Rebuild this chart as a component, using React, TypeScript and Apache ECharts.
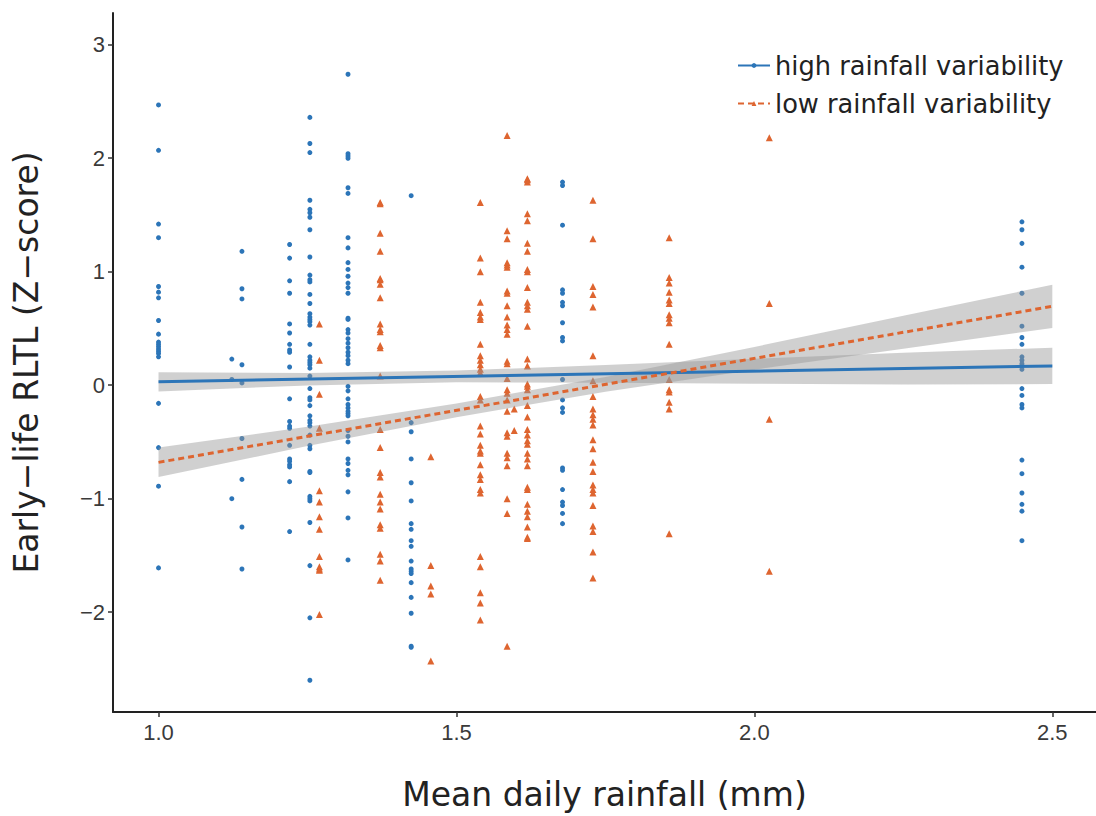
import React, { useEffect, useRef } from "react";
import * as echarts from "echarts";

// Column x-values (mean daily rainfall, mm) and Z-scores per column
const highX = [1.0, 1.123, 1.14, 1.22, 1.254, 1.318, 1.424, 1.678, 2.449];
const highY: number[][] = [
  [2.47, 2.07, 1.42, 1.30, 0.87, 0.82, 0.77, 0.57, 0.45, 0.38, 0.36, 0.34, 0.32, 0.30, 0.28, 0.25, -0.16, -0.55, -0.89, -1.61],
  [0.23, 0.05, -1.0],
  [1.18, 0.85, 0.76, 0.18, 0.02, -0.47, -0.83, -1.25, -1.62],
  [1.24, 1.12, 0.92, 0.81, 0.54, 0.46, 0.36, 0.31, 0.29, 0.16, -0.12, -0.32, -0.36, -0.38, -0.53, -0.65, -0.67, -0.70, -0.72, -0.85, -1.29],
  [2.36, 2.13, 2.05, 1.63, 1.55, 1.52, 1.48, 1.37, 1.13, 0.97, 0.93, 0.91, 0.80, 0.72, 0.63, 0.60, 0.58, 0.56, 0.53, 0.36, 0.25, 0.22, 0.20, 0.18, 0.15, 0.08, -0.03, -0.11, -0.13, -0.18, -0.27, -0.31, -0.33, -0.36, -0.44, -0.53, -0.56, -0.76, -0.77, -0.98, -1.00, -1.02, -1.21, -1.59, -2.05, -2.60],
  [2.74, 2.04, 2.02, 2.00, 1.74, 1.69, 1.30, 1.21, 1.08, 1.02, 0.96, 0.90, 0.86, 0.81, 0.59, 0.58, 0.49, 0.46, 0.41, 0.37, 0.33, 0.29, 0.26, 0.22, 0.19, -0.01, -0.05, -0.12, -0.17, -0.20, -0.23, -0.25, -0.27, -0.40, -0.45, -0.50, -0.65, -0.69, -0.75, -0.79, -0.94, -1.17, -1.54],
  [1.67, -0.33, -0.41, -0.65, -0.86, -1.02, -1.22, -1.27, -1.37, -1.42, -1.55, -1.62, -1.64, -1.66, -1.74, -1.87, -2.01, -2.30, -2.31],
  [1.79, 1.76, 1.41, 0.84, 0.81, 0.73, 0.70, 0.55, 0.42, 0.39, 0.05, -0.13, -0.20, -0.24, -0.73, -0.75, -0.92, -1.03, -1.06, -1.13, -1.22],
  [1.44, 1.37, 1.25, 1.04, 0.81, 0.52, 0.42, 0.36, 0.25, 0.22, 0.19, 0.17, 0.14, -0.03, -0.09, -0.17, -0.20, -0.66, -0.78, -0.95, -1.05, -1.11, -1.37],
];

const lowX = [1.27, 1.372, 1.457, 1.54, 1.585, 1.597, 1.619, 1.729, 1.857, 2.025];
const lowY: number[][] = [
  [0.54, 0.22, -0.08, -0.38, -0.93, -1.03, -1.16, -1.27, -1.51, -1.60, -1.62, -1.63, -2.02],
  [1.61, 1.60, 1.34, 1.18, 0.94, 0.93, 0.89, 0.77, 0.54, 0.49, 0.47, 0.35, 0.33, 0.08, -0.39, -0.55, -0.77, -0.81, -0.96, -1.03, -1.09, -1.23, -1.26, -1.49, -1.55, -1.72],
  [-0.63, -1.59, -1.77, -1.84, -2.43],
  [1.61, 1.12, 1.00, 0.73, 0.64, 0.60, 0.58, 0.36, 0.26, 0.22, 0.18, 0.14, 0.11, -0.10, -0.13, -0.36, -0.43, -0.53, -0.58, -0.60, -0.70, -0.79, -0.83, -0.92, -0.95, -1.51, -1.60, -1.83, -1.92, -2.07],
  [2.20, 1.36, 1.29, 1.08, 1.06, 1.04, 0.83, 0.81, 0.70, 0.60, 0.53, 0.49, 0.45, 0.21, 0.19, 0.06, -0.04, -0.07, -0.13, -0.23, -0.42, -0.45, -0.60, -0.64, -0.71, -1.00, -1.13, -2.30],
  [-0.21, -0.40],
  [1.82, 1.81, 1.79, 1.51, 1.45, 1.25, 1.18, 1.02, 1.00, 0.86, 0.73, 0.70, 0.67, 0.52, 0.23, 0.17, 0.01, -0.01, -0.04, -0.18, -0.28, -0.39, -0.44, -0.49, -0.52, -0.60, -0.65, -0.71, -0.90, -0.92, -1.05, -1.11, -1.16, -1.25, -1.34, -1.35],
  [1.63, 1.29, 0.87, 0.80, 0.69, 0.26, 0.04, -0.10, -0.21, -0.26, -0.30, -0.35, -0.48, -0.56, -0.68, -0.76, -0.88, -0.92, -0.95, -1.06, -1.24, -1.29, -1.47, -1.70],
  [1.30, 0.95, 0.90, 0.82, 0.75, 0.72, 0.62, 0.59, 0.55, 0.36, 0.05, -0.04, -0.06, -0.15, -0.21, -1.31],
  [2.18, 0.72, -0.30, -1.64],
];

// Fitted trend lines (endpoints) and confidence bands
const trendX = [1.0, 2.5];
const highTrend = [0.03, 0.17];
const lowTrend = [-0.68, 0.695];

const bandX = [1.0, 1.25, 1.5, 1.75, 2.0, 2.25, 2.5];
const highLower = [-0.055, -0.002, 0.025, 0.022, 0.013, 0.007, 0.01];
const highUpper = [0.115, 0.108, 0.129, 0.178, 0.233, 0.287, 0.33];
const lowLower = [-0.81, -0.536, -0.282, -0.057, 0.137, 0.321, 0.505];
const lowUpper = [-0.55, -0.366, -0.162, 0.073, 0.337, 0.611, 0.885];

const xTicks = [1.0, 1.5, 2.0, 2.5];
const yTicks = [-2, -1, 0, 1, 2, 3];

const BLUE = "#2c75b8";
const ORANGE = "#de6530";
const HIGH = "high rainfall variability";
const LOW = "low rainfall variability";

function flatten(xs: number[], ys: number[][]) {
  const out: number[][] = [];
  xs.forEach((x, i) => ys[i].forEach((y) => out.push([x, y])));
  return out;
}

function bandSeries(lower: number[], upper: number[]) {
  return {
    type: "custom",
    silent: true,
    z: 3,
    data: bandX.map((x, i) => [x, lower[i], upper[i]]),
    encode: { x: 0, y: [1, 2] },
    renderItem: (params: any, api: any) => {
      if (params.dataIndex !== 0) return null;
      const pts: number[][] = [];
      for (let i = 0; i < bandX.length; i++) pts.push(api.coord([bandX[i], upper[i]]));
      for (let i = bandX.length - 1; i >= 0; i--) pts.push(api.coord([bandX[i], lower[i]]));
      return {
        type: "polygon",
        shape: { points: pts },
        style: { fill: "rgba(150,150,150,0.45)", stroke: "none" },
      };
    },
  };
}

export default function App() {
  const ref = useRef<HTMLDivElement>(null);
  useEffect(() => {
    if (!ref.current) return;
    document.body.style.margin = "0";
    const chart = echarts.init(ref.current, null, { renderer: "svg" });
    const minus = (v: number) => String(v).replace("-", "\u2212");
    chart.setOption({
      animation: false,
      backgroundColor: "#ffffff",
      grid: { left: 113, width: 983, top: 13, height: 707, containLabel: false },
      legend: {
        orient: "vertical",
        left: 737,
        top: 52,
        padding: 0,
        itemWidth: 32,
        itemHeight: 6,
        itemGap: 11,
        data: [HIGH, LOW],
        textStyle: { fontFamily: "DejaVu Sans", fontSize: 25.7, color: "#222", lineHeight: 27 },
      },
      xAxis: {
        type: "value",
        min: 0.9236,
        max: 2.5733,
        name: "Mean daily rainfall (mm)",
        nameLocation: "middle",
        nameGap: 66,
        nameTextStyle: { fontFamily: "DejaVu Sans", fontSize: 33, color: "#222" },
        axisLine: { show: true, onZero: false, lineStyle: { color: "#222", width: 2 } },
        axisTick: { show: true, length: 5, customValues: xTicks, lineStyle: { color: "#333", width: 1.5 } },
        axisLabel: {
          customValues: xTicks,
          formatter: (v: number) => v.toFixed(1),
          fontFamily: "Liberation Sans",
          fontSize: 22,
          color: "#3a3a3a",
          margin: 9,
        },
        splitLine: { show: false },
      },
      yAxis: {
        type: "value",
        min: -2.88,
        max: 3.28,
        name: "Early\u2212life RLTL (Z\u2212score)",
        nameLocation: "middle",
        nameGap: 70,
        nameTextStyle: { fontFamily: "DejaVu Sans", fontSize: 33, color: "#222" },
        axisLine: { show: true, onZero: false, lineStyle: { color: "#222", width: 2 } },
        axisTick: { show: true, length: 5, customValues: yTicks, lineStyle: { color: "#333", width: 1.5 } },
        axisLabel: {
          customValues: yTicks,
          formatter: minus,
          fontFamily: "Liberation Sans",
          fontSize: 22,
          color: "#3a3a3a",
          margin: 8,
        },
        splitLine: { show: false },
      },
      series: [
        {
          name: "high points",
          type: "scatter",
          symbol: "circle",
          symbolSize: 5,
          itemStyle: { color: BLUE, opacity: 1 },
          data: flatten(highX, highY),
          z: 2,
        },
        {
          name: "low points",
          type: "scatter",
          symbol: "triangle",
          symbolSize: 7,
          itemStyle: { color: ORANGE, opacity: 1 },
          data: flatten(lowX, lowY),
          z: 2,
        },
        bandSeries(highLower, highUpper),
        bandSeries(lowLower, lowUpper),
        {
          name: HIGH,
          type: "line",
          symbol: "circle",
          showSymbol: false,
          data: trendX.map((x, i) => [x, highTrend[i]]),
          lineStyle: { color: BLUE, width: 3 },
          itemStyle: { color: BLUE },
          z: 5,
        },
        {
          name: LOW,
          type: "line",
          symbol: "triangle",
          showSymbol: false,
          data: trendX.map((x, i) => [x, lowTrend[i]]),
          lineStyle: { color: ORANGE, width: 3, type: [6, 4] },
          itemStyle: { color: ORANGE },
          z: 5,
        },
      ],
    });
    return () => chart.dispose();
  }, []);
  return <div ref={ref} style={{ width: 1096, height: 816 }} />;
}
